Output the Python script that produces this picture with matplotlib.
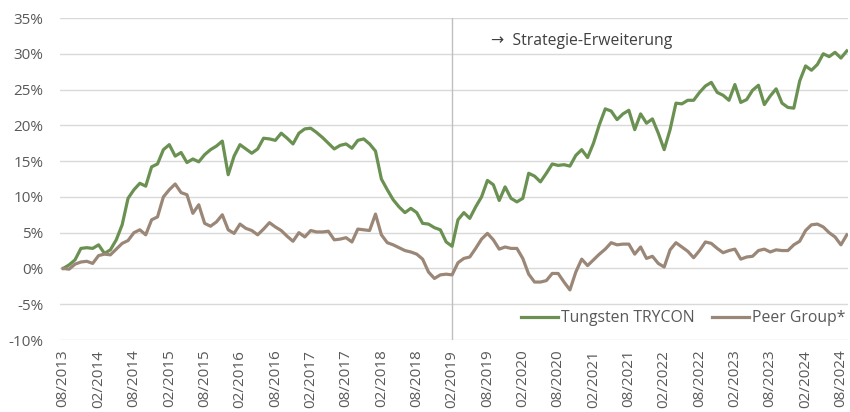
import matplotlib
matplotlib.use("Agg")
import matplotlib.pyplot as plt
import pandas as pd
from matplotlib.ticker import FixedLocator, FuncFormatter

plt.rcParams['font.family'] = ['Open Sans', 'DejaVu Sans']

# monthly dates 08/2013 .. 09/2024
dates = pd.date_range("2013-08-01", periods=134, freq="MS")

tungsten = [
    0.0, 0.5, 1.2, 2.8, 2.9, 2.8, 3.3, 2.1, 2.6, 4.0,
    6.1, 9.8, 11.0, 11.9, 11.5, 14.2, 14.6, 16.6, 17.3, 15.7,
    16.2, 14.8, 15.3, 14.9, 15.9, 16.6, 17.1, 17.8, 13.1, 15.7,
    17.3, 16.7, 16.1, 16.7, 18.2, 18.1, 17.9, 18.9, 18.2, 17.4,
    18.9, 19.5, 19.6, 19.0, 18.3, 17.5, 16.7, 17.2, 17.4, 16.8,
    17.9, 18.1, 17.4, 16.4, 12.5, 11.0, 9.6, 8.6, 7.8, 8.4,
    7.8, 6.3, 6.2, 5.7, 5.4, 3.7, 3.1, 6.8, 7.8, 7.0,
    8.6, 10.0, 12.3, 11.7, 9.5, 11.4, 9.8, 9.3, 9.8, 13.3,
    12.9, 12.1, 13.3, 14.6, 14.4, 14.5, 14.3, 15.8, 16.6, 15.5,
    17.5, 20.1, 22.3, 22.0, 20.8, 21.6, 22.1, 19.4, 21.6, 20.3,
    20.9, 18.9, 16.6, 19.4, 23.1, 23.0, 23.5, 23.5, 24.6, 25.5,
    26.0, 24.6, 24.2, 23.5, 25.7, 23.2, 23.6, 24.9, 25.6, 22.9,
    24.1, 25.1, 23.1, 22.5, 22.4, 26.2, 28.3, 27.7, 28.5, 30.0,
    29.6, 30.2, 29.4, 30.4,
]

peer = [
    0.0, -0.1, 0.6, 0.9, 1.0, 0.7, 1.8, 2.0, 1.9, 2.7,
    3.5, 3.9, 5.0, 5.4, 4.7, 6.8, 7.2, 10.0, 11.0, 11.8,
    10.6, 10.3, 7.7, 8.9, 6.3, 5.9, 6.5, 7.5, 5.4, 4.9,
    6.2, 5.6, 5.3, 4.7, 5.5, 6.4, 5.8, 5.3, 4.5, 3.8,
    5.0, 4.4, 5.3, 5.1, 5.1, 5.2, 4.0, 4.1, 4.3, 3.7,
    5.5, 5.4, 5.3, 7.6, 4.7, 3.6, 3.3, 2.9, 2.5, 2.3,
    2.0, 1.3, -0.5, -1.4, -0.9, -0.8, -0.9, 0.8, 1.4, 1.6,
    2.8, 4.1, 4.9, 4.0, 2.7, 3.0, 2.8, 2.8, 1.4, -0.8,
    -1.9, -1.9, -1.7, -0.7, -0.7, -1.9, -3.0, -0.5, 1.3, 0.4,
    1.2, 2.0, 2.7, 3.6, 3.3, 3.4, 3.4, 2.0, 3.0, 1.4,
    1.7, 0.7, 0.2, 2.6, 3.6, 3.0, 2.4, 1.5, 2.5, 3.7,
    3.5, 2.8, 2.2, 2.5, 2.7, 1.3, 1.6, 1.7, 2.5, 2.7,
    2.3, 2.6, 2.5, 2.5, 3.3, 3.8, 5.3, 6.1, 6.2, 5.8,
    5.0, 4.4, 3.3, 4.7,
]

series_names = ["Tungsten TRYCON", "Peer Group*"]
y_ticks = [-10, -5, 0, 5, 10, 15, 20, 25, 30, 35]
strategy_change = "2019-02-01"
annotation_text = "\u2192  Strategie-Erweiterung"

green = "#6a9152"
brown = "#9b8777"
grid_c = "#d9d9d9"
text_c = "#595959"

fig = plt.figure(figsize=(8.5, 4.12), dpi=100)
ax = fig.add_axes([60 / 850, 1 - 340 / 412, 788 / 850, 322 / 412])

x = list(range(len(dates)))
ax.plot(x, tungsten, color=green, lw=2.3, label=series_names[0], solid_joinstyle='round', zorder=3)
ax.plot(x, peer, color=brown, lw=2.3, label=series_names[1], solid_joinstyle='round', zorder=3)

ax.set_ylim(y_ticks[0], y_ticks[-1])
ax.set_xlim(-0.55, 133.2)
ax.yaxis.set_major_locator(FixedLocator(y_ticks))
ax.yaxis.set_major_formatter(FuncFormatter(lambda v, p: f"{int(v)}%"))
ax.grid(axis='y', color=grid_c, lw=1.0, zorder=0)
ax.set_axisbelow(True)

tick_idx = [i for i, d in enumerate(dates) if d.month in (2, 8) and i <= 132]
ax.set_xticks(tick_idx)
ax.set_xticklabels([dates[i].strftime("%m/%Y") for i in tick_idx], rotation=90)

for s in ax.spines.values():
    s.set_visible(False)
ax.tick_params(axis='both', length=0, labelsize=11, colors=text_c)
ax.tick_params(axis='y', pad=12)
ax.tick_params(axis='x', pad=7)

sc = list(dates).index(pd.Timestamp(strategy_change))
ax.axvline(sc, color="#bfbfbf", lw=1.0, zorder=1)
ax.text(sc + 6.6, 31.85, annotation_text, fontsize=11.3, color="#404040", va='center', ha='left')

leg = ax.legend(loc='center right', bbox_to_anchor=(0.997, 0.068), ncol=2, frameon=False,
                fontsize=11.3, handlelength=2.35, handletextpad=0.2, columnspacing=1.1,
                borderaxespad=0, borderpad=0)
for t in leg.get_texts():
    t.set_color(text_c)

fig.savefig("out.png", dpi=100)
